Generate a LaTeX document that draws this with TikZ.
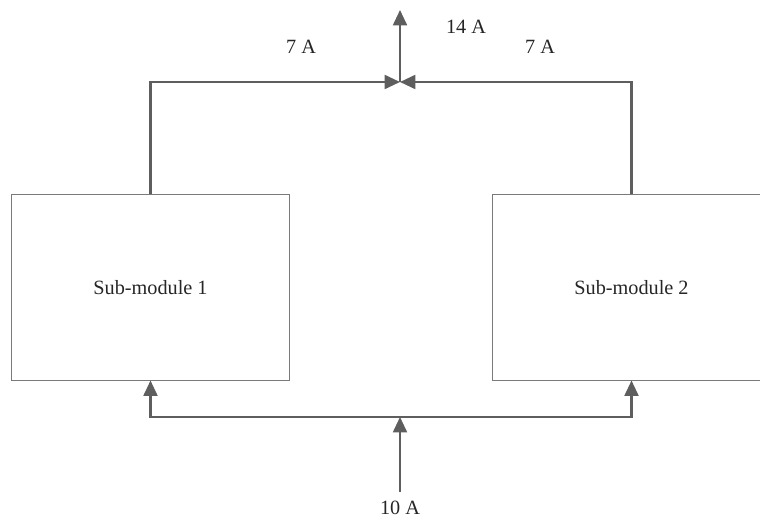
\documentclass[tikz,border=0pt]{standalone}
\usepackage{fontspec}
\setmainfont{Liberation Serif}
\usetikzlibrary{positioning, calc, arrows.meta}
\definecolor{wire}{HTML}{5E5E5E}
\definecolor{edge}{HTML}{7A7A7A}
\definecolor{ink}{HTML}{262626}
\begin{document}
\begin{tikzpicture}[x=0.025cm, y=-0.025cm, >={Triangle[length=11pt, width=10pt]},
				module/.style={draw=edge, line width=0.7pt, minimum width=6.925cm,
				minimum height=4.625cm, inner sep=0pt, text=ink, font=\fontsize{14.4}{17}\selectfont},
				current/.style={text=ink, font=\fontsize{14.4}{17}\selectfont},
				wire/.style={draw=wire, line width=1.5pt} ]
				\useasboundingbox (0,0) rectangle (760,518);
				\node[module] (M1) at (150.5,287.5) {Sub-module 1};
				\node[module] (M2) at (631.5,287.5) {Sub-module 2};
				
				\coordinate (top) at (400,82);
				\coordinate (out) at (400,10);
				\coordinate (bot) at (400,417);
				\coordinate (in)  at (400,492);
				
				%Correntes:
				\node[current] (I1)   at (301,47)  {7 A};
				\node[current] (I2)   at (540,47)  {7 A};
				\node[current] (Iout) at (466,27)  {14 A};
				\node[current] (Iin)  at (400,508) {10 A};
				
				\draw[wire,->] (M1.north) |- (top);
				\draw[wire,->] (M2.north) |- (top);
				\draw[wire,->] (top) -- (out);
				\draw[wire,->] (in) -- (bot);
				\draw[wire,->] (bot) -| (M1.south);
				\draw[wire,->] (bot) -| (M2.south);
			\end{tikzpicture}
\end{document}
